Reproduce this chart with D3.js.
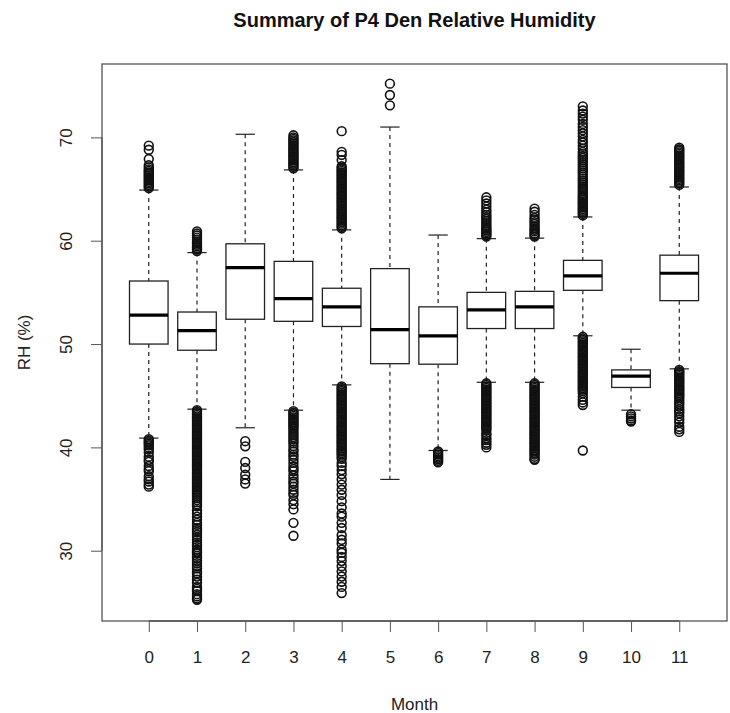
<!DOCTYPE html>
<html>
<head>
<meta charset="utf-8">
<script src="https://cdn.jsdelivr.net/npm/d3@7"></script>
<style>
  html, body { margin: 0; padding: 0; background: #fff; }
  svg { display: block; }
  text { font-family: "Liberation Sans", Arial, Helvetica, sans-serif; }
</style>
</head>
<body>
<svg id="chart" width="730" height="713"></svg>
<script>
// ---- Data ----
const months = [0, 1, 2, 3, 4, 5, 6, 7, 8, 9, 10, 11];
const whiskerLow  = [40.9, 43.7, 41.9, 43.6, 46.05, 36.9, 39.7, 46.3, 46.3, 50.8, 43.6, 47.6];
const q1          = [50.0, 49.4, 52.4, 52.2, 51.7, 48.1, 48.05, 51.5, 51.5, 55.2, 45.8, 54.2];
const medians     = [52.8, 51.3, 57.4, 54.4, 53.6, 51.4, 50.8, 53.3, 53.6, 56.6, 46.9, 56.85];
const q3          = [56.1, 53.1, 59.7, 58.0, 55.4, 57.3, 53.6, 55.0, 55.1, 58.1, 47.5, 58.6];
const whiskerHigh = [64.9, 58.85, 70.3, 66.85, 61.05, 71.0, 60.55, 60.2, 60.25, 62.3, 49.5, 65.2];

const outliers0 = [69.2, 68.8, 67.9, 67.3, 67.1, 66.9, 66.75, 66.6, 66.45, 66.3, 66.15, 66.0,
  65.85, 65.7, 65.55, 65.4, 65.25, 65.1,
  40.8, 40.65, 40.5, 40.35, 40.2, 40.0, 39.8, 39.5, 39.1, 38.8, 38.6, 38.2, 37.9, 37.7,
  37.2, 36.9, 36.7, 36.4, 36.2];
const outliers1 = [60.9, 60.7, 60.5, 60.3, 60.1, 59.9, 59.75, 59.6, 59.45, 59.3, 59.15, 59.0,
  43.6, 43.45, 43.3, 43.15, 43.0, 42.85, 42.7, 42.55, 42.4, 42.25, 42.1, 41.95, 41.8, 41.65,
  41.5, 41.35, 41.2, 41.05, 40.9, 40.75, 40.6, 40.45, 40.3, 40.15, 40.0, 39.85, 39.7, 39.55,
  39.4, 39.25, 39.1, 38.95, 38.8, 38.65, 38.5, 38.35, 38.2, 38.05, 37.9, 37.75, 37.6, 37.45,
  37.3, 37.15, 37.0, 36.85, 36.7, 36.55, 36.4, 36.25, 36.1, 35.95, 35.8, 35.65, 35.5, 35.3,
  35.1, 34.9, 34.7, 34.5, 34.3, 33.9, 33.6, 33.3, 33.0, 32.7, 32.5, 32.2, 32.0, 31.8, 31.55,
  31.3, 31.06, 30.8, 30.58, 30.35, 30.1, 29.9, 29.78, 29.5, 29.3, 29.0, 28.8, 28.5, 28.3,
  28.0, 27.8, 27.5, 27.2, 26.9, 26.5, 26.3, 26.1, 25.8, 25.6, 25.4, 25.26];
const outliers2 = [40.6, 40.1, 38.6, 38.0, 37.35, 36.9, 36.5];
const outliers3 = [70.2, 70.0, 69.85, 69.7, 69.55, 69.4, 69.25, 69.1, 68.95, 68.8, 68.65, 68.5,
  68.35, 68.2, 68.05, 67.9, 67.75, 67.6, 67.45, 67.3, 67.15, 67.0,
  43.5, 43.35, 43.2, 43.05, 42.9, 42.75, 42.6, 42.45, 42.3, 42.15, 42.0, 41.8, 41.6, 41.4,
  41.2, 41.0, 40.8, 40.6, 40.4, 40.1, 39.8, 39.6, 39.3, 39.1, 38.8, 38.5, 38.15, 37.9, 37.7,
  37.3, 37.0, 36.7, 36.5, 36.2, 35.9, 35.6, 35.4, 34.9, 34.5, 34.0, 32.7, 31.45];
const outliers4 = [70.6, 68.6, 68.3, 67.8, 67.2, 67.05, 66.9, 66.75, 66.6, 66.45, 66.3, 66.15,
  66.0, 65.85, 65.7, 65.55, 65.4, 65.25, 65.1, 64.95, 64.8, 64.65, 64.5, 64.35, 64.2, 64.05,
  63.9, 63.75, 63.6, 63.45, 63.3, 63.15, 63.0, 62.85, 62.7, 62.55, 62.4, 62.25, 62.1, 61.95,
  61.8, 61.65, 61.5, 61.35, 61.2,
  45.9, 45.75, 45.6, 45.45, 45.3, 45.15, 45.0, 44.85, 44.7, 44.55, 44.4, 44.25, 44.1, 43.95,
  43.8, 43.65, 43.5, 43.35, 43.2, 43.05, 42.9, 42.75, 42.6, 42.45, 42.3, 42.15, 42.0, 41.85,
  41.7, 41.55, 41.4, 41.25, 41.1, 40.95, 40.8, 40.65, 40.5, 40.35, 40.2, 40.05, 39.9, 39.75,
  39.6, 39.45, 39.3, 39.1, 38.9, 38.5, 38.2, 37.8, 37.4, 36.9, 36.4, 35.9, 35.4, 34.8, 34.2,
  33.6, 33.3, 32.7, 32.2, 31.5, 31.06, 30.7, 30.1, 29.8, 29.4, 29.0, 28.5, 28.0, 27.5, 27.0,
  26.5, 25.9];
const outliers5 = [75.2, 74.1, 73.1];
const outliers6 = [39.6, 39.45, 39.3, 39.15, 39.0, 38.85, 38.7, 38.55];
const outliers7 = [64.2, 63.9, 63.6, 63.3, 63.0, 62.75, 62.5, 62.3, 62.1, 61.9, 61.7, 61.5,
  61.3, 61.15, 61.0, 60.85, 60.7, 60.55, 60.4,
  46.2, 46.05, 45.9, 45.75, 45.6, 45.45, 45.3, 45.15, 45.0, 44.85, 44.7, 44.55, 44.4, 44.25,
  44.1, 43.95, 43.8, 43.65, 43.5, 43.35, 43.2, 43.05, 42.9, 42.75, 42.6, 42.45, 42.3, 42.15,
  42.0, 41.85, 41.7, 41.4, 41.2, 40.9, 40.7, 40.45, 40.25, 40.0];
const outliers8 = [63.1, 62.8, 62.5, 62.2, 62.0, 61.8, 61.6, 61.4, 61.2, 61.05, 60.9, 60.7,
  60.55, 60.4,
  46.2, 46.05, 45.9, 45.75, 45.6, 45.45, 45.3, 45.15, 45.0, 44.85, 44.7, 44.55, 44.4, 44.25,
  44.1, 43.95, 43.8, 43.65, 43.5, 43.35, 43.2, 43.05, 42.9, 42.75, 42.6, 42.45, 42.3, 42.15,
  42.0, 41.85, 41.7, 41.55, 41.4, 41.25, 41.1, 40.95, 40.8, 40.65, 40.5, 40.35, 40.2, 40.05,
  39.9, 39.75, 39.6, 39.45, 39.3, 39.1, 38.9, 38.8];
const outliers9 = [73.0, 72.6, 72.3, 72.0, 71.7, 71.3, 71.0, 70.7, 70.4, 70.1, 69.75, 69.5,
  69.2, 68.9, 68.6, 68.4, 68.2, 68.0, 67.8, 67.6, 67.4, 67.2, 67.0, 66.8, 66.6, 66.4, 66.2,
  66.0, 65.8, 65.6, 65.4, 65.2, 65.0, 64.8, 64.6, 64.4, 64.25, 64.1, 63.95, 63.8, 63.65,
  63.5, 63.35, 63.2, 63.05, 62.9, 62.75, 62.6, 62.45,
  50.7, 50.55, 50.4, 50.25, 50.1, 49.95, 49.8, 49.65, 49.5, 49.35, 49.2, 49.05, 48.9, 48.75,
  48.6, 48.45, 48.3, 48.15, 48.0, 47.85, 47.7, 47.55, 47.4, 47.25, 47.1, 46.95, 46.8, 46.65,
  46.5, 46.35, 46.2, 46.05, 45.9, 45.75, 45.6, 45.45, 45.25, 44.9, 44.6, 44.35, 44.1, 39.7];
const outliers10 = [43.2, 43.0, 42.8, 42.6, 42.5];
const outliers11 = [69.0, 68.85, 68.7, 68.55, 68.4, 68.25, 68.1, 67.95, 67.8, 67.65, 67.5,
  67.35, 67.2, 67.05, 66.9, 66.75, 66.6, 66.45, 66.3, 66.15, 66.0, 65.85, 65.7, 65.55, 65.4,
  47.5, 47.35, 47.2, 47.05, 46.9, 46.75, 46.6, 46.45, 46.3, 46.15, 46.0, 45.85, 45.7, 45.55,
  45.4, 45.25, 45.1, 44.95, 44.8, 44.6, 44.4, 44.2, 43.95, 43.7, 43.5, 43.3, 43.0, 42.7,
  42.4, 42.0, 41.75, 41.5];
const outliers = [outliers0, outliers1, outliers2, outliers3, outliers4, outliers5,
  outliers6, outliers7, outliers8, outliers9, outliers10, outliers11];

const yTicks = [30, 40, 50, 60, 70];
const titleText = "Summary of P4 Den Relative Humidity";
const xLabel = "Month";
const yLabel = "RH (%)";

// ---- Layout ----
const plot = { left: 102, right: 727, top: 64, bottom: 621 };
const svg = d3.select("#chart");
svg.append("rect").attr("width", 730).attr("height", 713).attr("fill", "#fff");

const x = d3.scaleLinear().domain([-0.97, 11.99]).range([plot.left, plot.right]);
const y = d3.scaleLinear().domain([23.2, 77.1]).range([plot.bottom, plot.top]);
const unit = x(1) - x(0);
const boxW = 0.8 * unit;
const capW = boxW / 2;
const ink = "#222";

const g = svg.append("g");
const groups = g.selectAll("g.month").data(months).join("g").attr("class", "month");

// whiskers (dashed)
groups.append("line")
  .attr("x1", d => x(d)).attr("x2", d => x(d))
  .attr("y1", (d, i) => y(whiskerHigh[i])).attr("y2", (d, i) => y(q3[i]))
  .attr("stroke", ink).attr("stroke-width", 1.2).attr("stroke-dasharray", "4,4");
groups.append("line")
  .attr("x1", d => x(d)).attr("x2", d => x(d))
  .attr("y1", (d, i) => y(q1[i])).attr("y2", (d, i) => y(whiskerLow[i]))
  .attr("stroke", ink).attr("stroke-width", 1.2).attr("stroke-dasharray", "4,4");
// staples
groups.append("line")
  .attr("x1", d => x(d) - capW / 2).attr("x2", d => x(d) + capW / 2)
  .attr("y1", (d, i) => y(whiskerHigh[i])).attr("y2", (d, i) => y(whiskerHigh[i]))
  .attr("stroke", ink).attr("stroke-width", 1.2);
groups.append("line")
  .attr("x1", d => x(d) - capW / 2).attr("x2", d => x(d) + capW / 2)
  .attr("y1", (d, i) => y(whiskerLow[i])).attr("y2", (d, i) => y(whiskerLow[i]))
  .attr("stroke", ink).attr("stroke-width", 1.2);
// boxes
groups.append("rect")
  .attr("x", d => x(d) - boxW / 2).attr("width", boxW)
  .attr("y", (d, i) => y(q3[i])).attr("height", (d, i) => y(q1[i]) - y(q3[i]))
  .attr("fill", "#fff").attr("stroke", ink).attr("stroke-width", 1.3);
// medians
groups.append("line")
  .attr("x1", d => x(d) - boxW / 2).attr("x2", d => x(d) + boxW / 2)
  .attr("y1", (d, i) => y(medians[i])).attr("y2", (d, i) => y(medians[i]))
  .attr("stroke", "#000").attr("stroke-width", 3.2);
// outliers
groups.each(function (d, i) {
  d3.select(this).selectAll("circle")
    .data(outliers[i]).join("circle")
    .attr("cx", x(d)).attr("cy", v => y(v)).attr("r", 4.4)
    .attr("fill", "none").attr("stroke", "#111").attr("stroke-width", 1.6);
});

// frame
svg.append("rect")
  .attr("x", plot.left).attr("y", plot.top)
  .attr("width", plot.right - plot.left).attr("height", plot.bottom - plot.top)
  .attr("fill", "none").attr("stroke", "#555").attr("stroke-width", 1.3);

// x axis
const xAxis = d3.axisBottom(x).tickValues(months).tickSize(11).tickPadding(19).tickFormat(d3.format("d"));
const gx = svg.append("g").attr("transform", `translate(0,${plot.bottom})`).call(xAxis);
gx.select(".domain").attr("d", `M${x(0)},0H${x(11)}`).attr("stroke", "#555").attr("stroke-width", 1.3);
gx.selectAll(".tick line").attr("stroke", "#555");
gx.selectAll(".tick text").attr("font-size", 17).attr("fill", "#222")
  .attr("font-family", "Liberation Sans, Arial, sans-serif");

// y axis
const yAxis = d3.axisLeft(y).tickValues(yTicks).tickSize(11).tickPadding(0).tickFormat(d3.format("d"));
const gy = svg.append("g").attr("transform", `translate(${plot.left},0)`).call(yAxis);
gy.select(".domain").attr("d", `M0,${y(30)}V${y(70)}`).attr("stroke", "#555").attr("stroke-width", 1.3);
gy.selectAll(".tick line").attr("stroke", "#555");
gy.selectAll(".tick text")
  .attr("x", null).attr("dy", null)
  .attr("text-anchor", "middle")
  .attr("transform", "translate(-30,0) rotate(-90)")
  .attr("font-size", 17).attr("fill", "#222")
  .attr("font-family", "Liberation Sans, Arial, sans-serif");

// title & labels
svg.append("text")
  .attr("x", (plot.left + plot.right) / 2).attr("y", 27)
  .attr("text-anchor", "middle").attr("font-weight", "bold").attr("font-size", 20)
  .attr("fill", "#111").text(titleText);
svg.append("text")
  .attr("x", (plot.left + plot.right) / 2).attr("y", 710)
  .attr("text-anchor", "middle").attr("font-size", 17).attr("fill", "#222").text(xLabel);
svg.append("text")
  .attr("transform", `translate(30,${(plot.top + plot.bottom) / 2}) rotate(-90)`)
  .attr("text-anchor", "middle").attr("font-size", 17).attr("fill", "#222").text(yLabel);
</script>
</body>
</html>
